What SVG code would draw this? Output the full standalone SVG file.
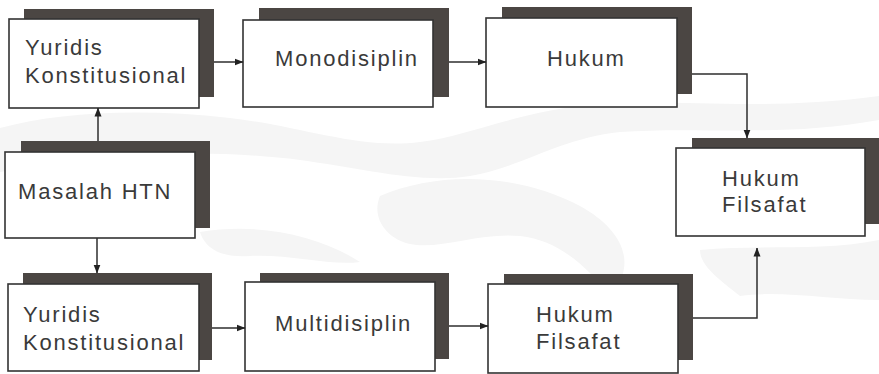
<svg xmlns="http://www.w3.org/2000/svg" width="879" height="374" viewBox="0 0 879 374">
<defs>
<style>
.shadow{fill:#4b4643}
.box{fill:#ffffff;stroke:#333333;stroke-width:1.6}
.lbl{font-family:"Liberation Sans",Arial,sans-serif;font-size:22px;letter-spacing:1.8px;fill:#3a3a3a}
.wm{fill:#f5f5f5}
.conn{fill:none;stroke:#2e2e2e;stroke-width:1.5}
</style>
<marker id="arr" markerWidth="9" markerHeight="8" refX="8.5" refY="4" orient="auto" markerUnits="userSpaceOnUse">
<path d="M0,0.5 L9,4 L0,7.5 Z" fill="#222222"/>
</marker>
</defs>
<rect width="879" height="374" fill="#ffffff"/>
<g id="watermark">
<path class="wm" d="M0,128 C60,112 140,108 230,118 C300,126 360,150 420,142 C470,136 520,110 600,104 C680,98 760,112 879,96 L879,120 C780,138 700,126 620,132 C560,138 520,168 470,176 C420,184 360,168 300,160 C220,150 120,150 0,172 Z"/>
<path class="wm" d="M380,196 C440,170 520,174 580,206 C620,228 640,262 610,296 C590,270 560,240 520,236 C480,232 440,250 410,244 C390,240 370,220 380,196 Z"/>
<path class="wm" d="M700,250 C760,244 820,252 879,240 L879,300 C830,300 780,290 740,296 C720,280 700,266 700,250 Z"/>
<path class="wm" d="M200,232 C260,222 320,236 360,262 C330,266 290,254 250,256 C220,258 205,248 200,232 Z"/>
</g>
<g id="node-yuridis-top">
<rect class="shadow" x="24" y="9" width="190" height="88"/>
<rect class="box" x="9" y="19" width="190" height="89"/>
<text class="lbl" x="25" y="55">Yuridis</text>
<text class="lbl" x="25" y="83">Konstitusional</text>
</g>
<g id="node-monodisiplin">
<rect class="shadow" x="259" y="8" width="190" height="89"/>
<rect class="box" x="243" y="20" width="190" height="87"/>
<text class="lbl" x="275" y="66">Monodisiplin</text>
</g>
<g id="node-hukum">
<rect class="shadow" x="502" y="7" width="190" height="87"/>
<rect class="box" x="486" y="18" width="191" height="89"/>
<text class="lbl" x="547" y="66">Hukum</text>
</g>
<g id="node-hukum-filsafat-right">
<rect class="shadow" x="692" y="138" width="190" height="86"/>
<rect class="box" x="676" y="148" width="189" height="88"/>
<text class="lbl" x="722" y="186">Hukum</text>
<text class="lbl" x="722" y="212">Filsafat</text>
</g>
<g id="node-masalah-htn">
<rect class="shadow" x="21" y="141" width="189" height="87"/>
<rect class="box" x="5" y="152" width="190" height="86"/>
<text class="lbl" x="18" y="199">Masalah HTN</text>
</g>
<g id="node-yuridis-bottom">
<rect class="shadow" x="23" y="273" width="189" height="87"/>
<rect class="box" x="8" y="284" width="191" height="87"/>
<text class="lbl" x="23" y="322">Yuridis</text>
<text class="lbl" x="23" y="350">Konstitusional</text>
</g>
<g id="node-multidisiplin">
<rect class="shadow" x="260" y="273" width="189" height="86"/>
<rect class="box" x="245" y="282" width="190" height="89"/>
<text class="lbl" x="275" y="331">Multidisiplin</text>
</g>
<g id="node-hukum-filsafat-bottom">
<rect class="shadow" x="504" y="274" width="189" height="86"/>
<rect class="box" x="488" y="284" width="190" height="89"/>
<text class="lbl" x="536" y="322">Hukum</text>
<text class="lbl" x="536" y="349">Filsafat</text>
</g>
<g id="connectors">
<path class="conn" d="M214,62 H243" marker-end="url(#arr)"/>
<path class="conn" d="M449,62 H486" marker-end="url(#arr)"/>
<path class="conn" d="M692,74 H747 V138" marker-end="url(#arr)"/>
<path class="conn" d="M98,141 V108" marker-end="url(#arr)"/>
<path class="conn" d="M97,238 V273" marker-end="url(#arr)"/>
<path class="conn" d="M212,328 H245" marker-end="url(#arr)"/>
<path class="conn" d="M449,326 H488" marker-end="url(#arr)"/>
<path class="conn" d="M693,318 H757 V248" marker-end="url(#arr)"/>
</g>
</svg>
